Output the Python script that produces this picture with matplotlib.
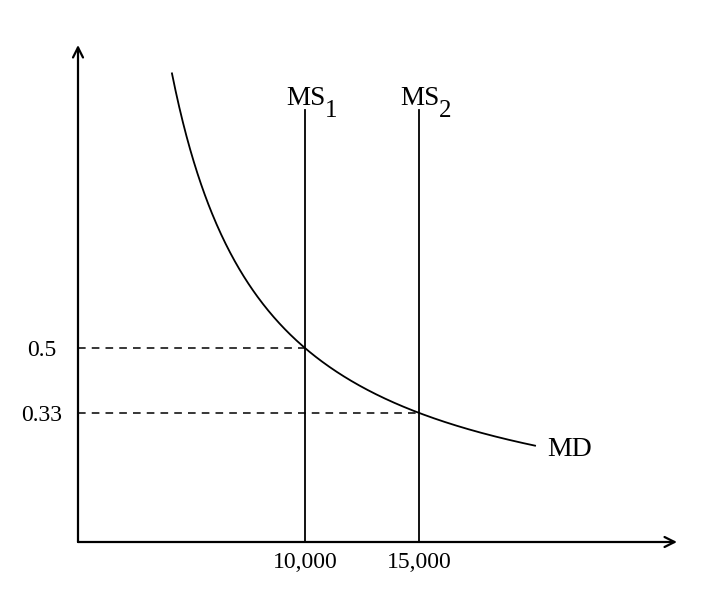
import numpy as np
import matplotlib.pyplot as plt

plt.rcParams['font.family'] = ['Liberation Serif', 'DejaVu Serif']

# money demand MD: P = k / Q, two money supply levels
k = 5000
q_supply = [10000, 15000]
supply_subs = ['1', '2']
price_ticks = [0.5, 1 / 3]
price_labels = ['0.5', '0.33']
qty_labels = ['10,000', '15,000']
q_curve_start, q_curve_end = 4130, 20090
ms_top = 1.116

fig = plt.figure(figsize=(7.08, 6), dpi=100)
ax = fig.add_axes([78 / 708, 58 / 600, 599 / 708, 497 / 600])
ax.set_xlim(0, 26330)
ax.set_ylim(0, 1.284)
for s in ax.spines.values():
    s.set_visible(False)

# axes with arrows
arrow = dict(arrowstyle='->', lw=1.6, color='black',
             mutation_scale=18, shrinkA=0, shrinkB=0)
ax.annotate('', xy=(1, 0), xytext=(0, 0), xycoords='axes fraction',
            arrowprops=arrow)
ax.annotate('', xy=(0, 1), xytext=(0, 0), xycoords='axes fraction',
            arrowprops=arrow)

# MD curve
q = np.linspace(q_curve_start, q_curve_end, 400)
ax.plot(q, k / q, color='black', lw=1.3)
ax.annotate('MD', xy=(q_curve_end, k / q_curve_end), xytext=(9, -3),
            textcoords='offset points', fontsize=20, ha='left', va='center')

# MS lines, label with a big lowered subscript
px = 0.72  # points per pixel
for qs, sub in zip(q_supply, supply_subs):
    ax.plot([qs, qs], [0, ms_top], color='black', lw=1.3)
    ax.annotate('MS', xy=(qs, ms_top), xytext=(-19 * px, 5 * px),
                textcoords='offset points', fontsize=19.5,
                ha='left', va='baseline')
    ax.annotate(sub, xy=(qs, ms_top), xytext=(19.5 * px, -7 * px),
                textcoords='offset points', fontsize=18,
                ha='left', va='baseline')

# dashed guides
for qs in q_supply:
    ax.plot([0, qs], [k / qs, k / qs], color='black', lw=1.1,
            dashes=(5, 4))

ax.set_xticks(q_supply)
ax.set_xticklabels(qty_labels, fontsize=17)
ax.set_yticks(price_ticks)
ax.set_yticklabels(price_labels, fontsize=17)
ax.tick_params(axis='x', length=0, pad=7)
ax.tick_params(axis='y', length=0, pad=26)
for t in ax.get_yticklabels():
    t.set_horizontalalignment('center')

fig.savefig('out.png', dpi=100)
